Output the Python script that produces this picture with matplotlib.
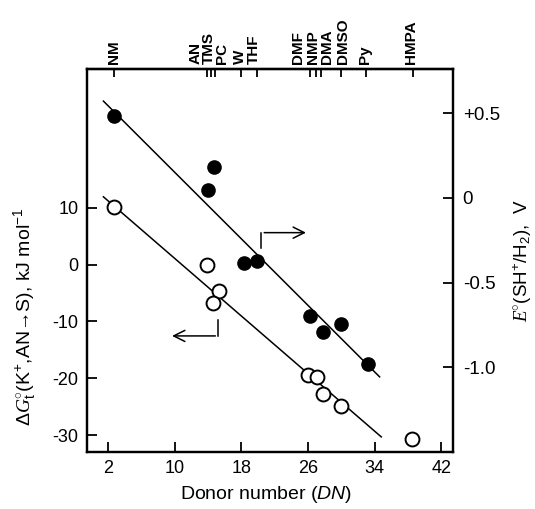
import matplotlib
matplotlib.use("Agg")
import matplotlib.pyplot as plt
import matplotlib.transforms as mtransforms

plt.rcParams['font.family'] = ['Liberation Sans', 'DejaVu Sans']
plt.rcParams['axes.unicode_minus'] = False
plt.rcParams['mathtext.fontset'] = 'custom'
plt.rcParams['mathtext.rm'] = 'Liberation Sans'
plt.rcParams['mathtext.it'] = 'Liberation Sans:italic'
plt.rcParams['mathtext.cal'] = 'Liberation Serif:italic'

# solvents on the top axis (donor number positions)
solvents = ['NM', 'AN', 'TMS', 'PC', 'W', 'THF', 'DMF', 'NMP', 'DMA', 'DMSO', 'Py', 'HMPA']
solvent_dn = [2.7, 13.9, 14.4, 14.9, 18.0, 19.9, 26.3, 27.0, 27.6, 30.0, 33.0, 38.6]
label_dn = [2.75, 12.5, 14.15, 15.75, 17.8, 19.5, 24.8, 26.6, 28.3, 30.2, 32.9, 38.4]

# open circles: dG_t(K+, AN->S), kJ/mol  (left axis)
dg_dn = [2.7, 13.9, 15.3, 14.6, 26.0, 27.1, 27.8, 30.0, 38.5]
dg_val = [10.1, 0.0, -4.7, -6.8, -19.5, -19.8, -22.8, -24.9, -30.7]

# filled circles: E0(SH+/H2), V  (right axis)
e_dn = [2.7, 14.0, 14.7, 18.3, 19.9, 26.3, 27.8, 30.0, 33.2]
e_val = [0.486, 0.045, 0.184, -0.386, -0.371, -0.696, -0.794, -0.745, -0.981]

# straight lines drawn through each set
dg_line_dn = [1.47, 34.8]
dg_line_val = [11.9, -30.3]
e_line_dn = [1.47, 34.6]
e_line_val = [0.572, -1.057]

fig = plt.figure(figsize=(5.35, 5.09), dpi=100)
ax = fig.add_axes([0.1626, 0.1120, 0.6841, 0.7524])
ax2 = ax.twinx()

ax.plot(dg_line_dn, dg_line_val, color='black', lw=1.1, zorder=2)
ax.plot(dg_dn, dg_val, 'o', ms=10, mfc='white', mec='black', mew=1.4, zorder=3)
ax2.plot(e_line_dn, e_line_val, color='black', lw=1.1, zorder=2)
ax2.plot(e_dn, e_val, 'o', ms=9.5, mfc='black', mec='black', zorder=3)

ax.set_xlim(-0.5, 43.4)
ax.set_ylim(-32.95, 34.36)
ax2.set_ylim(-1.5007, 0.7615)

ax.set_xticks([2, 10, 18, 26, 34, 42])
ax.set_yticks([10, 0, -10, -20, -30])
ax2.set_yticks([0.5, 0, -0.5, -1.0])
ax2.set_yticklabels(['+0.5', '0', '-0.5', '-1.0'])

for a in (ax, ax2):
    for s in a.spines.values():
        s.set_linewidth(1.6)
ax.tick_params(direction='in', length=7, width=1.3, labelsize=13, pad=6)
ax2.tick_params(direction='in', length=7, width=1.3, labelsize=13.5, pad=7)

top = ax.secondary_xaxis('top')
top.set_xticks(solvent_dn)
top.set_xticklabels([''] * len(solvent_dn))
top.tick_params(direction='in', length=6, width=1.3)
top.spines['top'].set_linewidth(1.6)

trans = mtransforms.blended_transform_factory(ax.transData, ax.transAxes)
for name, x in zip(solvents, label_dn):
    ax.text(x, 1.012, name, transform=trans, rotation=90, ha='center', va='bottom',
            fontsize=11, fontweight='bold')

ax.set_xlabel(r'Donor number ($DN$)', fontsize=14)
ax.xaxis.set_label_coords(0.49, -0.083)
ax.set_ylabel(r'$\Delta\mathcal{G}_{\rm t}^{\circ}$(K$^{+}$,AN→S), kJ mol$^{-1}$', fontsize=14)
ax.yaxis.set_label_coords(-0.135, 0.352)
ax2.set_ylabel(r'$\mathcal{E}^{\circ}$(SH$^{+}$/H$_{2}$),  V', fontsize=13.5)
ax2.yaxis.set_label_coords(1.16, 0.50)

# bracket arrows pointing to the axis each set belongs to
ax.annotate('', xy=(26.1, 5.6), xytext=(20.42, 5.6),
            arrowprops=dict(arrowstyle='->', lw=1.1, mutation_scale=20))
ax.plot([20.42, 20.42], [2.9, 5.6], color='black', lw=1.1)
ax.annotate('', xy=(9.37, -12.55), xytext=(15.23, -12.55),
            arrowprops=dict(arrowstyle='->', lw=1.1, mutation_scale=20))
ax.plot([15.23, 15.23], [-9.8, -12.55], color='black', lw=1.1)

fig.savefig('out.png', dpi=100)
